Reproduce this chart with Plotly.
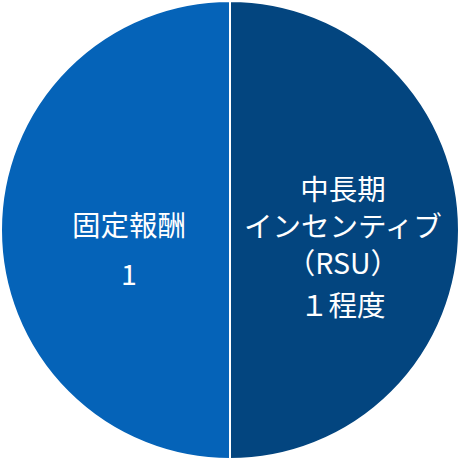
import plotly.graph_objects as go

categories = ["中長期インセンティブ（RSU）", "固定報酬"]
values = [1, 1]
colors = ["#03457f", "#0563b8"]
right_label_lines = ["中長期", "インセンティブ", "（RSU）"]
right_label_value = "１程度"
left_label_lines = ["固定報酬", "1"]

fig = go.Figure(go.Pie(
    labels=categories, values=values, sort=False, direction="clockwise",
    rotation=0, textinfo="none", hoverinfo="label+value",
    marker=dict(colors=colors, line=dict(color="white", width=2)),
    showlegend=False,
))

W = 460
font = dict(family="Noto Sans CJK JP", size=28.5, color="white")
ann = [
    dict(x=343 / W, y=1 - 224 / W, xref="paper", yref="paper",
         text="<br>".join(right_label_lines), showarrow=False, font=font,
         xanchor="center", yanchor="middle", align="center"),
    dict(x=343 / W, y=1 - 304 / W, xref="paper", yref="paper",
         text=right_label_value, showarrow=False, font=font,
         xanchor="center", yanchor="middle"),
]
for text, y in zip(left_label_lines, [223, 273]):
    ann.append(dict(x=129 / W, y=1 - y / W, xref="paper", yref="paper", text=text,
                    showarrow=False, font=font, xanchor="center", yanchor="middle"))

fig.update_layout(width=460, height=460, margin=dict(l=1, r=1, t=1, b=1),
                  paper_bgcolor="white", annotations=ann)
fig.write_html("out.html", config={"displayModeBar": False},
               post_script="document.body.style.margin='0';")
